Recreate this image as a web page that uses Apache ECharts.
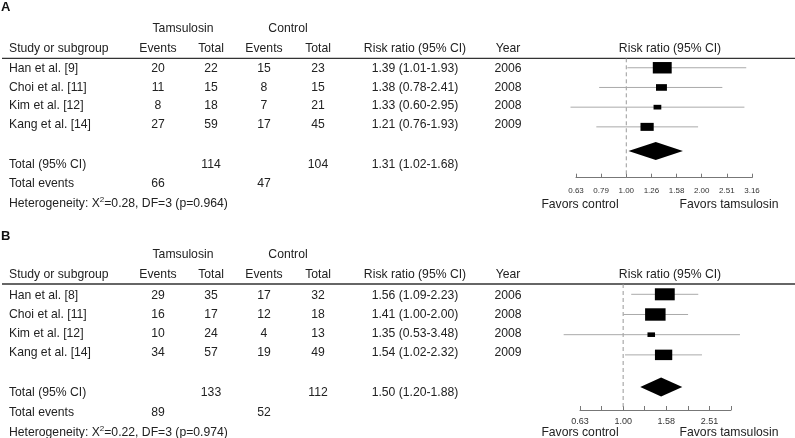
<!DOCTYPE html>
<html>
<head>
<meta charset="utf-8">
<script src="https://cdn.jsdelivr.net/npm/echarts@6.0.0/dist/echarts.min.js"></script>
<style>
  html, body { margin: 0; padding: 0; background: #fff; }
  #chart { width: 795px; height: 438px; }
</style>
</head>
<body>
<div id="chart"></div>
<script>
// A、B 两组森林图数据（坦索罗辛 vs 对照）
const studiesA = ['Han et al. [9]', 'Choi et al. [11]', 'Kim et al. [12]', 'Kang et al. [14]'];
const studiesB = ['Han et al. [8]', 'Choi et al. [11]', 'Kim et al. [12]', 'Kang et al. [14]'];
const years = ['2006', '2008', '2008', '2009'];

const tamEventsA = [20, 11, 8, 27];
const tamTotalA = [22, 15, 18, 59];
const ctlEventsA = [15, 8, 7, 17];
const ctlTotalA = [23, 15, 21, 45];
const rrA = [1.39, 1.38, 1.33, 1.21];
const loA = [1.01, 0.78, 0.60, 0.76];
const hiA = [1.93, 2.41, 2.95, 1.93];
const hiLineA = [3.0, 2.41, 2.95, 1.93]; // 原图 Han 的横线画到约 3.0
const pooledA = [1.31, 1.02, 1.68];
const totalsA = [114, 104];
const totalEventsA = [66, 47];
const hetA = ['0.28', '3', '0.964'];
const tickLabelsA = ['0.63', '0.79', '1.00', '1.26', '1.58', '2.00', '2.51', '3.16'];

const tamEventsB = [29, 16, 10, 34];
const tamTotalB = [35, 17, 24, 57];
const ctlEventsB = [17, 12, 4, 19];
const ctlTotalB = [32, 18, 13, 49];
const rrB = [1.56, 1.41, 1.35, 1.54];
const loB = [1.09, 1.00, 0.53, 1.02];
const hiB = [2.23, 2.00, 3.48, 2.32];
const pooledB = [1.50, 1.20, 1.88];
const totalsB = [133, 112];
const totalEventsB = [89, 52];
const hetB = ['0.22', '3', '0.974'];
const tickLabelsB = ['0.63', '', '1.00', '', '1.58', '', '2.51', ''];

const FONT = '"Liberation Sans", Arial, sans-serif';
const TXT = '#222';

function log10(v) { return Math.log(v) / Math.LN10; }
function fmt(v) { return v.toFixed(2); }
function ciText(r, l, h) { return fmt(r) + ' (' + fmt(l) + '-' + fmt(h) + ')'; }
// 倒方差权重（log RR），决定方块面积
function ivWeight(a, n1, c, n2) { return 1 / (1 / a - 1 / n1 + 1 / c - 1 / n2); }

function txt(x, y, s, align, extra) {
  return {
    type: 'text', x: x, y: y, silent: true,
    style: Object.assign({
      text: s, fill: TXT, font: '12.2px ' + FONT,
      textAlign: align || 'center', textVerticalAlign: 'middle'
    }, extra || {})
  };
}

const panels = [
  {
    letter: 'A', studies: studiesA, tamEv: tamEventsA, tamTot: tamTotalA, ctlEv: ctlEventsA, ctlTot: ctlTotalA,
    rr: rrA, lo: loA, hi: hiA, hiLine: hiLineA, pooled: pooledA, totals: totalsA, totalEvents: totalEventsA,
    het: hetA, tickLabels: tickLabelsA, tickFont: 8, labelMargin: 9,
    ty: { letter: 7.8, group: 28.3, head: 48.3, line: 58.3, row0: 68.3, step: 18.9, total: 165, events: 183.5, het: 203.3, favors: 205 },
    grid: { left: 576, top: 58.3, width: 176, height: 119.4 },
    yMin: -0.48, yMax: 5.58, diamondRow: 4.23, diamondHalf: 9, boxK: 6
  },
  {
    letter: 'B', studies: studiesB, tamEv: tamEventsB, tamTot: tamTotalB, ctlEv: ctlEventsB, ctlTot: ctlTotalB,
    rr: rrB, lo: loB, hi: hiB, hiLine: hiB, pooled: pooledB, totals: totalsB, totalEvents: totalEventsB,
    het: hetB, tickLabels: tickLabelsB, tickFont: 9, labelMargin: 7,
    ty: { letter: 236.9, group: 255, head: 275, line: 284, row0: 296, step: 18.8, total: 392.3, events: 412.3, het: 432.3, favors: 432.3 },
    grid: { left: 580, top: 284, width: 151, height: 126 },
    yMin: -0.51, yMax: 5.73, diamondRow: 4.59, diamondHalf: 9.5, boxK: 8
  }
];

const graphics = [];
const grids = [];
const xAxes = [];
const yAxes = [];
const series = [];

panels.forEach(function (p, pi) {
  const t = p.ty;
  // 表格文字
  graphics.push(txt(1, t.letter, p.letter, 'left', { font: 'bold 13px ' + FONT, fill: '#111' }));
  graphics.push(txt(183, t.group, 'Tamsulosin'));
  graphics.push(txt(288, t.group, 'Control'));
  graphics.push(txt(9, t.head, 'Study or subgroup', 'left'));
  graphics.push(txt(158, t.head, 'Events'));
  graphics.push(txt(211, t.head, 'Total'));
  graphics.push(txt(264, t.head, 'Events'));
  graphics.push(txt(318, t.head, 'Total'));
  graphics.push(txt(415, t.head, 'Risk ratio (95% CI)'));
  graphics.push(txt(508, t.head, 'Year'));
  graphics.push(txt(670, t.head, 'Risk ratio (95% CI)'));
  graphics.push({
    type: 'line', silent: true,
    shape: { x1: 2, y1: t.line, x2: 795, y2: t.line },
    style: { stroke: '#333', lineWidth: 1.3 }
  });
  p.studies.forEach(function (s, i) {
    const y = t.row0 + i * t.step;
    graphics.push(txt(9, y, s, 'left'));
    graphics.push(txt(158, y, String(p.tamEv[i])));
    graphics.push(txt(211, y, String(p.tamTot[i])));
    graphics.push(txt(264, y, String(p.ctlEv[i])));
    graphics.push(txt(318, y, String(p.ctlTot[i])));
    graphics.push(txt(415, y, ciText(p.rr[i], p.lo[i], p.hi[i])));
    graphics.push(txt(508, y, years[i]));
  });
  graphics.push(txt(9, t.total, 'Total (95% CI)', 'left'));
  graphics.push(txt(211, t.total, String(p.totals[0])));
  graphics.push(txt(318, t.total, String(p.totals[1])));
  graphics.push(txt(415, t.total, ciText(p.pooled[0], p.pooled[1], p.pooled[2])));
  graphics.push(txt(9, t.events, 'Total events', 'left'));
  graphics.push(txt(158, t.events, String(p.totalEvents[0])));
  graphics.push(txt(264, t.events, String(p.totalEvents[1])));
  graphics.push(txt(9, t.het, 'Heterogeneity: X{s|2}=' + p.het[0] + ', DF=' + p.het[1] + ' (p=' + p.het[2] + ')', 'left', {
    lineHeight: 16,
    rich: { s: { font: '8px ' + FONT, fill: TXT, verticalAlign: 'top', lineHeight: 9 } }
  }));
  graphics.push(txt(580, t.favors, 'Favors control'));
  graphics.push(txt(729, t.favors, 'Favors tamsulosin'));

  // 森林图坐标系（x 为 log10 风险比）
  grids.push(p.grid);
  xAxes.push({
    gridIndex: pi, type: 'value', min: -0.2, max: 0.5, interval: 0.1,
    axisLine: { show: true, onZero: false, lineStyle: { color: '#777', width: 1 } },
    axisTick: { show: true, inside: true, length: 4, lineStyle: { color: '#777' } },
    splitLine: { show: false },
    axisLabel: {
      show: true, showMinLabel: true, showMaxLabel: true, hideOverlap: false,
      margin: p.labelMargin, fontSize: p.tickFont, fontFamily: FONT, color: '#333',
      formatter: (function (labels) {
        return function (v) { return labels[Math.round((v + 0.2) * 10)] || ''; };
      })(p.tickLabels)
    }
  });
  yAxes.push({ gridIndex: pi, type: 'value', inverse: true, min: p.yMin, max: p.yMax, show: false });

  // 参考线 RR = 1
  series.push({
    type: 'line', xAxisIndex: pi, yAxisIndex: pi, silent: true, symbol: 'none', z: 1,
    lineStyle: { color: '#999', width: 1, type: [4, 3] },
    data: [[log10(1), p.yMin], [log10(1), p.yMax]]
  });

  const rows = p.studies.map(function (s, i) {
    return [log10(p.rr[i]), log10(p.lo[i]), log10(p.hiLine[i]), i,
      ivWeight(p.tamEv[i], p.tamTot[i], p.ctlEv[i], p.ctlTot[i])];
  });
  series.push({
    type: 'custom', xAxisIndex: pi, yAxisIndex: pi, silent: true, z: 3,
    encode: { x: [0, 1, 2], y: 3 },
    data: rows,
    renderItem: (function (k) {
      return function (params, api) {
        const c = api.coord([api.value(0), api.value(3)]);
        const l = api.coord([api.value(1), api.value(3)]);
        const h = api.coord([api.value(2), api.value(3)]);
        const bh = Math.sqrt(k * api.value(4) / 1.65);
        const bw = bh * 1.65;
        return {
          type: 'group',
          children: [
            { type: 'line', shape: { x1: l[0], y1: l[1], x2: h[0], y2: h[1] }, style: { stroke: '#aaa', lineWidth: 1 } },
            { type: 'rect', shape: { x: c[0] - bw / 2, y: c[1] - bh / 2, width: bw, height: bh }, style: { fill: '#000' } }
          ]
        };
      };
    })(p.boxK)
  });

  series.push({
    type: 'custom', xAxisIndex: pi, yAxisIndex: pi, silent: true, z: 3,
    encode: { x: [0, 1, 2], y: 3 },
    data: [[log10(p.pooled[0]), log10(p.pooled[1]), log10(p.pooled[2]), p.diamondRow]],
    renderItem: (function (half) {
      return function (params, api) {
        const c = api.coord([api.value(0), api.value(3)]);
        const l = api.coord([api.value(1), api.value(3)]);
        const h = api.coord([api.value(2), api.value(3)]);
        return {
          type: 'polygon',
          shape: { points: [[l[0], l[1]], [c[0], c[1] - half], [h[0], h[1]], [c[0], c[1] + half]] },
          style: { fill: '#000' }
        };
      };
    })(p.diamondHalf)
  });
});

const chart = echarts.init(document.getElementById('chart'), null, { renderer: 'canvas' });
chart.setOption({
  backgroundColor: '#fff',
  animation: false,
  grid: grids,
  xAxis: xAxes,
  yAxis: yAxes,
  series: series,
  graphic: graphics
});
</script>
</body>
</html>
